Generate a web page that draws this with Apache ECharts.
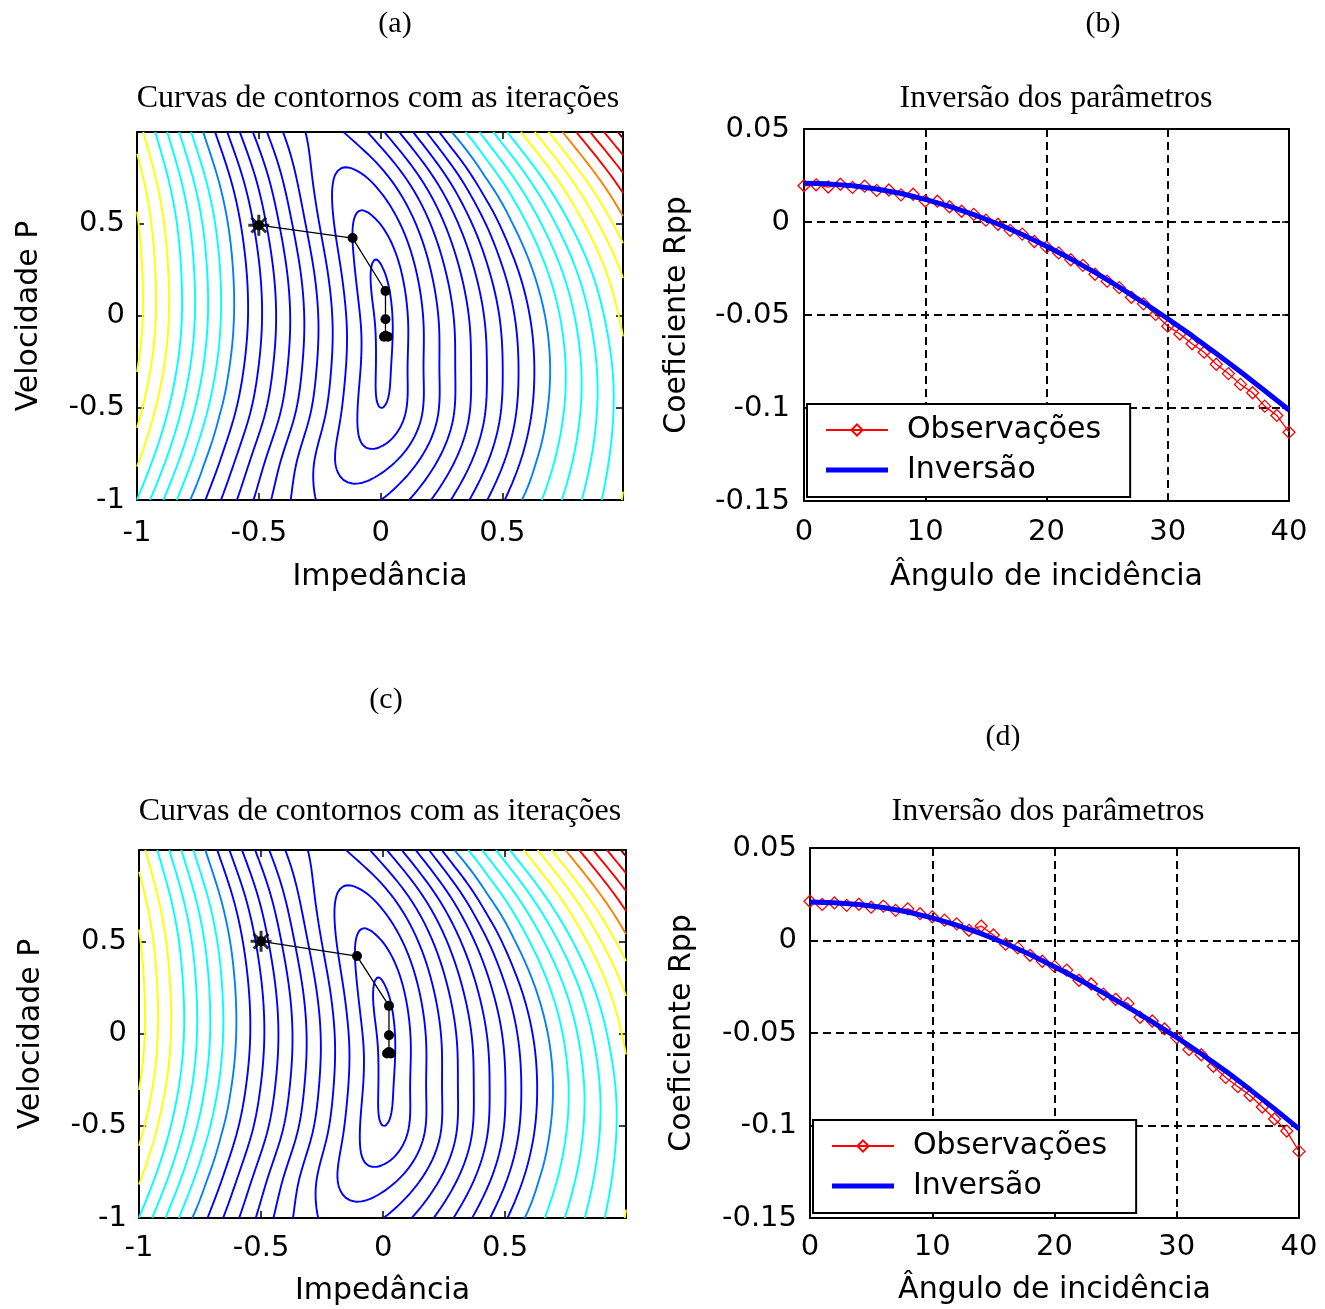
<!DOCTYPE html>
<html>
<head>
<meta charset="utf-8">
<script src="https://cdn.jsdelivr.net/npm/echarts@6/dist/echarts.min.js"></script>
<style>
html,body{margin:0;padding:0;background:#fff;}
#chart{width:1325px;height:1309px;}
</style>
</head>
<body>
<div id="chart"></div>
<script>
// ================= DATA =================
// Panels (b) and (d): incidence angle (degrees)
const ANGLES_OBS = [0,1,2,3,4,5,6,7,8,9,10,11,12,13,14,15,16,17,18,19,20,21,22,23,24,25,26,27,28,29,30,31,32,33,34,35,36,37,38,39,40];
const ANGLES_FIT = [0,2,4,6,8,10,12,14,16,18,20,22,24,26,28,30,32,34,36,38,40];

// Panel (b): observed Rpp (red diamonds) and inverted Rpp (blue line)
const OBS_B = [0.0195,0.0200,0.0188,0.0203,0.0186,0.0193,0.0170,0.0172,0.0146,0.0149,
               0.0113,0.0112,0.0082,0.0058,0.0041,0.0010,-0.0012,-0.0045,-0.0065,-0.0105,
               -0.0135,-0.0166,-0.0203,-0.0233,-0.0281,-0.0318,-0.0353,-0.0405,-0.0440,-0.0497,
               -0.0560,-0.0602,-0.0655,-0.0700,-0.0765,-0.0815,-0.0873,-0.0918,-0.0990,-0.1040,-0.1130];
const FIT_B = [0.0209,0.0205,0.0195,0.0177,0.0153,0.0122,0.0084,0.0040,-0.0011,-0.0067,-0.0130,
               -0.0198,-0.0271,-0.0350,-0.0433,-0.0520,-0.0611,-0.0707,-0.0805,-0.0907,-0.1011];

// Panel (d)
const OBS_D = [0.0212,0.0195,0.0203,0.0190,0.0196,0.0180,0.0186,0.0163,0.0171,0.0145,
               0.0128,0.0110,0.0090,0.0055,0.0078,0.0030,-0.0020,-0.0040,-0.0080,-0.0112,
               -0.0140,-0.0160,-0.0215,-0.0235,-0.0290,-0.0318,-0.0340,-0.0415,-0.0435,-0.0478,
               -0.0525,-0.0590,-0.0618,-0.0680,-0.0740,-0.0790,-0.0838,-0.0900,-0.0965,-0.1030,-0.1140];
const FIT_D = [0.0208,0.0204,0.0195,0.0178,0.0154,0.0122,0.0083,0.0037,-0.0016,-0.0076,-0.0142,
               -0.0211,-0.0283,-0.0360,-0.0440,-0.0524,-0.0612,-0.0706,-0.0806,-0.0910,-0.1018];

// Panels (a) and (c): iteration path (Impedância, Velocidade P)
const ITER_A_X = [-0.50,-0.115,0.020,0.020,0.020,0.014,0.030];
const ITER_A_Y = [0.49,0.420,0.133,-0.020,-0.110,-0.115,-0.115];
const ITER_C_X = [-0.50,-0.107,0.024,0.024,0.024,0.016,0.032];
const ITER_C_Y = [0.50,0.420,0.150,-0.009,-0.100,-0.108,-0.108];

// Contour levels (index of each drawn curve, counted outward from the minimum) and their colours
const CONTOUR_LEVELS = [1,2,3,4,5,6,7,8,9,10,11,12,13,14,15,16,17,18,19,20,21,22,23];
const LEVEL_COLORS = ['#0000ff','#0000ff','#0000ff','#0000ff','#0000ff','#0000ff','#0000ff','#0000ff','#0000ff','#0000ff',
                      '#0080ff','#00ffff','#00ffff','#00ffff','#00ffff','#ffff00','#ffff00','#ffff00',
                      '#ff8000','#ff0000','#ff0000','#ff0000','#800000'];

// Contour geometry read along horizontal rows of the contour plot:
// valley floor (x, level), where the light-blue level-11 curve crosses the row (left/right),
// level spacing outside the level-11 curve, and the roundness of the valley floor.
const REF_LEVEL   = 11;
const ROW_Y       = [0.99, 0.75, 0.50, 0.25, -0.065, -0.30, -0.55, -0.80, -1.00];
const ROW_XMIN    = [-0.23, -0.125, -0.06, -0.015, 0.0125, 0.010, 0.000, -0.07, -0.14];
const ROW_LMIN    = [3.7, 2.75, 1.75, 0.85, 0.5, 0.72, 1.15, 2.4, 3.5];
const ROW_X11_L   = [-0.727, -0.669, -0.627, -0.606, -0.604, -0.623, -0.663, -0.723, -0.782];
const ROW_X11_R   = [0.295, 0.430, 0.541, 0.623, 0.683, 0.696, 0.681, 0.637, 0.580];
const ROW_SLOPE_L = [20.3, 19.6, 19.1, 18.8, 18.7, 18.6, 18.5, 18.4, 18.3];
const ROW_SLOPE_R = [17.6, 17.3, 17.0, 16.7, 16.4, 15.6, 14.6, 13.4, 12.2];
const ROW_ROUND   = [5.0, 3.5, 2.0, 0.6, 0.1, 0.3, 1.0, 3.0, 4.5];

// ================= contour field from the row readings =================
function rowValue(r, x) {
  const xm = ROW_XMIN[r], lm = ROW_LMIN[r], rd = ROW_ROUND[r];
  const d = x - xm;
  const left = d < 0;
  const D = left ? xm - ROW_X11_L[r] : ROW_X11_R[r] - xm;
  const k = left ? ROW_SLOPE_L[r] : ROW_SLOPE_R[r];
  const a = Math.abs(d);
  const h = REF_LEVEL - lm + rd;
  const s = Math.sqrt(h * h - rd * rd) / D;
  if (a <= D) return lm + Math.sqrt(rd * rd + s * s * a * a) - rd;
  return REF_LEVEL + k * (a - D);
}
function naturalSpline(xs, ys) {
  const n = xs.length, h = [], al = [], l = [], mu = [], z = [], c = new Array(n).fill(0), b = [], d = [];
  for (let i = 0; i < n - 1; i++) h[i] = xs[i + 1] - xs[i];
  for (let i = 1; i < n - 1; i++) al[i] = 3 / h[i] * (ys[i + 1] - ys[i]) - 3 / h[i - 1] * (ys[i] - ys[i - 1]);
  l[0] = 1; mu[0] = 0; z[0] = 0;
  for (let i = 1; i < n - 1; i++) {
    l[i] = 2 * (xs[i + 1] - xs[i - 1]) - h[i - 1] * mu[i - 1];
    mu[i] = h[i] / l[i];
    z[i] = (al[i] - h[i - 1] * z[i - 1]) / l[i];
  }
  for (let j = n - 2; j >= 0; j--) {
    c[j] = z[j] - mu[j] * c[j + 1];
    b[j] = (ys[j + 1] - ys[j]) / h[j] - h[j] * (c[j + 1] + 2 * c[j]) / 3;
    d[j] = (c[j + 1] - c[j]) / (3 * h[j]);
  }
  return function (x) {
    let j = n - 2;
    for (let k = 0; k < n - 1; k++) { if (x <= xs[k + 1]) { j = k; break; } }
    const t = x - xs[j];
    return ys[j] + b[j] * t + c[j] * t * t + d[j] * t * t * t;
  };
}
const NX = 220, NY = 220;
const XMIN = -1, XMAX = 0.995, YMIN = -1, YMAX = 0.995;
const GX = [], GY = [];
for (let i = 0; i < NX; i++) GX.push(XMIN + (XMAX - XMIN) * i / (NX - 1));
for (let j = 0; j < NY; j++) GY.push(YMIN + (YMAX - YMIN) * j / (NY - 1));
const rowOrder = ROW_Y.map((y, i) => i).sort((a, b) => ROW_Y[a] - ROW_Y[b]);
const FIELD = new Float64Array(NX * NY);
for (let i = 0; i < NX; i++) {
  const ys = rowOrder.map(r => ROW_Y[r]);
  const vs = rowOrder.map(r => rowValue(r, GX[i]));
  const sp = naturalSpline(ys, vs);
  for (let j = 0; j < NY; j++) FIELD[j * NX + i] = sp(GY[j]);
}
function traceContours(F, nx, ny, xs, ys, lv) {
  const segA = [], segB = [], pts = new Map(), adj = new Map();
  function hEdge(i, j) {
    const id = (j * nx + i) * 2;
    if (!pts.has(id)) { const a = F[j * nx + i], b = F[j * nx + i + 1]; const t = (lv - a) / (b - a); pts.set(id, [xs[i] + t * (xs[i + 1] - xs[i]), ys[j]]); }
    return id;
  }
  function vEdge(i, j) {
    const id = (j * nx + i) * 2 + 1;
    if (!pts.has(id)) { const a = F[j * nx + i], b = F[(j + 1) * nx + i]; const t = (lv - a) / (b - a); pts.set(id, [xs[i], ys[j] + t * (ys[j + 1] - ys[j])]); }
    return id;
  }
  function addSeg(p, q) {
    const s = segA.length; segA.push(p); segB.push(q);
    if (!adj.has(p)) adj.set(p, []); adj.get(p).push(s);
    if (!adj.has(q)) adj.set(q, []); adj.get(q).push(s);
  }
  for (let j = 0; j < ny - 1; j++) {
    for (let i = 0; i < nx - 1; i++) {
      const v00 = F[j * nx + i], v10 = F[j * nx + i + 1], v01 = F[(j + 1) * nx + i], v11 = F[(j + 1) * nx + i + 1];
      const c = (v00 > lv ? 1 : 0) | (v10 > lv ? 2 : 0) | (v11 > lv ? 4 : 0) | (v01 > lv ? 8 : 0);
      if (c === 0 || c === 15) continue;
      const B = () => hEdge(i, j), T = () => hEdge(i, j + 1), L = () => vEdge(i, j), R = () => vEdge(i + 1, j);
      switch (c) {
        case 1: case 14: addSeg(B(), L()); break;
        case 2: case 13: addSeg(B(), R()); break;
        case 3: case 12: addSeg(L(), R()); break;
        case 4: case 11: addSeg(R(), T()); break;
        case 6: case 9: addSeg(B(), T()); break;
        case 7: case 8: addSeg(L(), T()); break;
        case 5: { const m = (v00 + v10 + v01 + v11) / 4; if (m > lv) { addSeg(B(), R()); addSeg(L(), T()); } else { addSeg(B(), L()); addSeg(R(), T()); } break; }
        case 10: { const m = (v00 + v10 + v01 + v11) / 4; if (m > lv) { addSeg(B(), L()); addSeg(R(), T()); } else { addSeg(B(), R()); addSeg(L(), T()); } break; }
      }
    }
  }
  const used = new Uint8Array(segA.length);
  function nextSeg(p) { const list = adj.get(p); for (const t of list) if (!used[t]) return t; return -1; }
  const out = [];
  for (let s = 0; s < segA.length; s++) {
    if (used[s]) continue;
    used[s] = 1;
    let fwd = [segA[s], segB[s]];
    let p = fwd[1];
    for (;;) { const t = nextSeg(p); if (t < 0) break; used[t] = 1; const q = segA[t] === p ? segB[t] : segA[t]; fwd.push(q); p = q; }
    p = fwd[0];
    const back = [];
    for (;;) { const t = nextSeg(p); if (t < 0) break; used[t] = 1; const q = segA[t] === p ? segB[t] : segA[t]; back.push(q); p = q; }
    const chain = back.reverse().concat(fwd);
    for (const id of chain) out.push(pts.get(id));
    out.push([NaN, NaN]);
  }
  return out;
}
const CONTOUR_DATA = CONTOUR_LEVELS.map(lv => traceContours(FIELD, NX, NY, GX, GY, lv));

// ================= CHART =================
const SANS = 'DejaVu Sans';
const SERIF = 'Liberation Serif';
const STAR = 'path://M10,0L10,20M0,10L20,10M3,3L17,17M3,17L17,3';

const GRIDS = [
  {left: 137, top: 132, width: 486, height: 368},   // (a)
  {left: 804, top: 129, width: 485, height: 372},   // (b)
  {left: 139, top: 850, width: 487, height: 368},   // (c)
  {left: 810, top: 848, width: 489, height: 370}    // (d)
];

const axisLineStyle = {show: true, onZero: false, lineStyle: {color: '#000', width: 2}};
const tickStyle = {show: true, inside: true, length: 7, lineStyle: {color: '#000', width: 1.5}};
const dashStyle = {show: true, lineStyle: {color: '#000', width: 2, type: [8, 5]}};
const nameStyle = {fontFamily: SANS, fontSize: 30, color: '#000'};
const fmtContour = v => String(v);
const fmtRpp = v => String(+v.toFixed(2));

function xAxesFor(g, min, max, interval, name, nameGap, margin, fmt, showMax, split) {
  return [
    {type: 'value', gridIndex: g, position: 'bottom', min, max, interval,
     name, nameLocation: 'middle', nameGap, nameTextStyle: nameStyle,
     axisLine: axisLineStyle, axisTick: tickStyle,
     axisLabel: {show: true, margin, color: '#000', fontFamily: SANS, fontSize: 29, formatter: fmt, showMaxLabel: showMax, showMinLabel: true},
     splitLine: split ? dashStyle : {show: false}},
    {type: 'value', gridIndex: g, position: 'top', min, max, interval,
     axisLine: axisLineStyle, axisTick: tickStyle, axisLabel: {show: false}, splitLine: {show: false}}
  ];
}
function yAxesFor(g, min, max, interval, name, nameGap, margin, fmt, showMax, split) {
  return [
    {type: 'value', gridIndex: g, position: 'left', min, max, interval,
     name, nameLocation: 'middle', nameGap, nameRotate: 90, nameTextStyle: nameStyle,
     axisLine: axisLineStyle, axisTick: tickStyle,
     axisLabel: {show: true, margin, color: '#000', fontFamily: SANS, fontSize: 29, formatter: fmt, showMaxLabel: showMax, showMinLabel: true},
     splitLine: split ? dashStyle : {show: false}},
    {type: 'value', gridIndex: g, position: 'right', min, max, interval,
     axisLine: axisLineStyle, axisTick: tickStyle, axisLabel: {show: false}, splitLine: {show: false}}
  ];
}

const xAxis = [].concat(
  xAxesFor(0, XMIN, XMAX, 0.5, 'Impedância', 62, 19, fmtContour, false, false),
  xAxesFor(1, 0, 40, 10, 'Ângulo de incidência', 61, 17, fmtContour, true, true),
  xAxesFor(2, XMIN, XMAX, 0.5, 'Impedância', 58, 16, fmtContour, false, false),
  xAxesFor(3, 0, 40, 10, 'Ângulo de incidência', 57, 15, fmtContour, true, true)
);
const yAxis = [].concat(
  yAxesFor(0, YMIN, YMAX, 0.5, 'Velocidade P', 93, 12, fmtContour, false, false),
  yAxesFor(1, -0.15, 0.05, 0.05, 'Coeficiente Rpp', 112, 14, fmtRpp, true, true),
  yAxesFor(2, YMIN, YMAX, 0.5, 'Velocidade P', 93, 12, fmtContour, false, false),
  yAxesFor(3, -0.15, 0.05, 0.05, 'Coeficiente Rpp', 113, 13, fmtRpp, true, true)
);

const series = [];
function addContourPanel(g, itx, ity) {
  CONTOUR_LEVELS.forEach((lv, k) => {
    series.push({type: 'line', xAxisIndex: 2 * g, yAxisIndex: 2 * g, data: CONTOUR_DATA[k],
      symbol: 'none', showSymbol: false, connectNulls: false, silent: true, animation: false,
      lineStyle: {color: LEVEL_COLORS[k], width: 1.9}, z: 2});
  });
  series.push({type: 'line', xAxisIndex: 2 * g, yAxisIndex: 2 * g,
    data: itx.map((x, i) => [x, ity[i]]), symbol: 'circle', symbolSize: 10, showSymbol: true,
    itemStyle: {color: '#000'}, lineStyle: {color: '#000', width: 1.3}, silent: true, animation: false, z: 5});
  series.push({type: 'scatter', xAxisIndex: 2 * g, yAxisIndex: 2 * g,
    data: [[itx[0], ity[0]]], symbol: STAR, symbolSize: 21,
    itemStyle: {color: '#000', borderColor: '#000', borderWidth: 3}, silent: true, animation: false, z: 6});
}
function addRppPanel(g, obs, fit) {
  series.push({type: 'line', name: 'Observações', xAxisIndex: 2 * g, yAxisIndex: 2 * g,
    data: ANGLES_OBS.map((a, i) => [a, obs[i]]), symbol: 'diamond', symbolSize: 12,
    showSymbol: true, showAllSymbol: true,
    itemStyle: {color: 'rgba(255,255,255,0)', borderColor: '#ff0000', borderWidth: 1.3},
    lineStyle: {color: '#ff0000', width: 1.3}, animation: false, z: 3});
  series.push({type: 'line', name: 'Inversão', xAxisIndex: 2 * g, yAxisIndex: 2 * g,
    data: ANGLES_FIT.map((a, i) => [a, fit[i]]), symbol: 'none', showSymbol: false,
    itemStyle: {color: '#0000ff'}, lineStyle: {color: '#0000ff', width: 5}, animation: false, z: 4});
}
addContourPanel(0, ITER_A_X, ITER_A_Y);
addRppPanel(1, OBS_B, FIT_B);
addContourPanel(2, ITER_C_X, ITER_C_Y);
addRppPanel(3, OBS_D, FIT_D);

function legendAt(left, top) {
  return {data: ['Observações', {name: 'Inversão', icon: 'path://M0,0L62,0L62,5L0,5Z'}],
    orient: 'vertical', left, top,
    backgroundColor: '#fff', borderColor: '#000', borderWidth: 2,
    padding: [11, 29, 12, 18], itemGap: 10, itemWidth: 62, itemHeight: 14,
    selectedMode: false,
    textStyle: {fontFamily: SANS, fontSize: 30, color: '#000', padding: [0, 0, 0, 14]}};
}

function txt(text, x, y, size, family) {
  return {type: 'text', x, y, silent: true,
    style: {text, fill: '#000', font: size + 'px "' + family + '"', align: 'center', verticalAlign: 'middle',
            textAlign: 'center', textVerticalAlign: 'middle'}};
}

const option = {
  backgroundColor: '#ffffff',
  animation: false,
  grid: GRIDS.map(g => Object.assign({show: false, containLabel: false, outerBoundsMode: 'none'}, g)),
  xAxis, yAxis, series,
  legend: [legendAt(807, 404), legendAt(813, 1120)],
  graphic: [
    txt('(a)', 395, 24, 30, SERIF),
    txt('(b)', 1103, 24, 30, SERIF),
    txt('(c)', 386, 700, 30, SERIF),
    txt('(d)', 1003, 737, 30, SERIF),
    txt('Curvas de contornos com as iterações', 378, 99, 32, SERIF),
    txt('Inversão dos parâmetros', 1056, 99, 32, SERIF),
    txt('Curvas de contornos com as iterações', 380, 812, 32, SERIF),
    txt('Inversão dos parâmetros', 1048, 812, 32, SERIF)
  ]
};

const chart = echarts.init(document.getElementById('chart'), null, {renderer: 'canvas', width: 1325, height: 1309});
chart.setOption(option);
</script>
</body>
</html>
